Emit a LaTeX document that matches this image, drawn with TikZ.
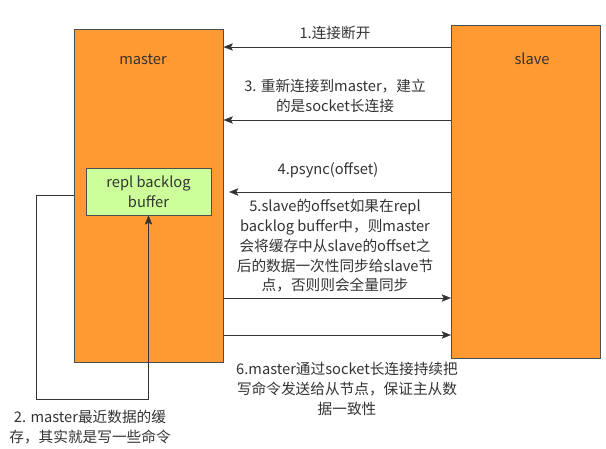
\documentclass[tikz,border=0pt]{standalone}
\usepackage{fontspec}
\setmainfont{Noto Sans CJK SC}
\usepackage{xcolor}
\usepackage{tikz}
\usetikzlibrary{arrows.meta, positioning}

\definecolor{boxorange}{HTML}{FF9A33}
\definecolor{boxgreen}{HTML}{CCFF99}
\definecolor{edgegray}{HTML}{4D4D4D}
\definecolor{txtgray}{HTML}{333333}

\begin{document}
\begin{tikzpicture}[x=0.75pt, y=-0.75pt,
    every node/.style={font=\fontsize{11pt}{14.8pt}\selectfont, text=txtgray, inner sep=0pt},
    server/.style={draw=edgegray, fill=boxorange, rectangle, minimum width=111.75pt, minimum height=249.75pt, anchor=north west},
    bufbox/.style={draw=edgegray, fill=boxgreen, rectangle, minimum width=93.75pt, minimum height=35.25pt, align=center},
    msg/.style={draw=txtgray, -{Stealth[length=7pt, width=5.5pt, inset=1.5pt]}},
    note/.style={align=center}]

    \useasboundingbox (0,0) rectangle (606,449);

    % Nodes for master and slave
    \node (master) [server] at (74,29) {};
    \node (slave) [server] at (451,25) {};
    \node (mastertitle) at (143,59) {master};
    \node (slavetitle) at (532,59) {slave};

    % Buffer inside the master
    \node (buffer) [bufbox] at (148.5,191.5) {repl backlog\\buffer};

    % Messages from slave to master
    \draw[msg] (slave.west |- 0,47) -- (master.east |- 0,47);
    \node (disconnect) at (335,33) {1.连接断开};

    \draw[msg] (slave.west |- 0,120) -- (master.east |- 0,120);
    \node (reconnect) [note] at (335,96) {3. 重新连接到master，建立\\的是socket长连接};

    \coordinate (psyncend) at (229,192);
    \draw[msg] (slave.west |- 0,192) -- (psyncend);
    \node (psync) at (328,170) {4.psync(offset)};

    % Messages from master to slave
    \node (partial) [note] at (335,246) {5.slave的offset如果在repl\\backlog buffer中，则master\\会将缓存中从slave的offset之\\后的数据一次性同步给slave节\\点，否则则会全量同步};
    \draw[msg] (master.east |- 0,298) -- (slave.west |- 0,298);

    \draw[msg] (master.east |- 0,335) -- (slave.west |- 0,335);
    \node (propagate) [note] at (347,389) {6.master通过socket长连接持续把\\写命令发送给从节点，保证主从数\\据一致性};

    % Loop from master into the buffer
    \coordinate (loopcorner) at (36,399);
    \draw[msg] (master.west |- 0,195) -| (loopcorner) -| (buffer.south);
    \node (backlog) [note] at (90,427) {2. master最近数据的缓\\存，其实就是写一些命令};

\end{tikzpicture}
\end{document}
